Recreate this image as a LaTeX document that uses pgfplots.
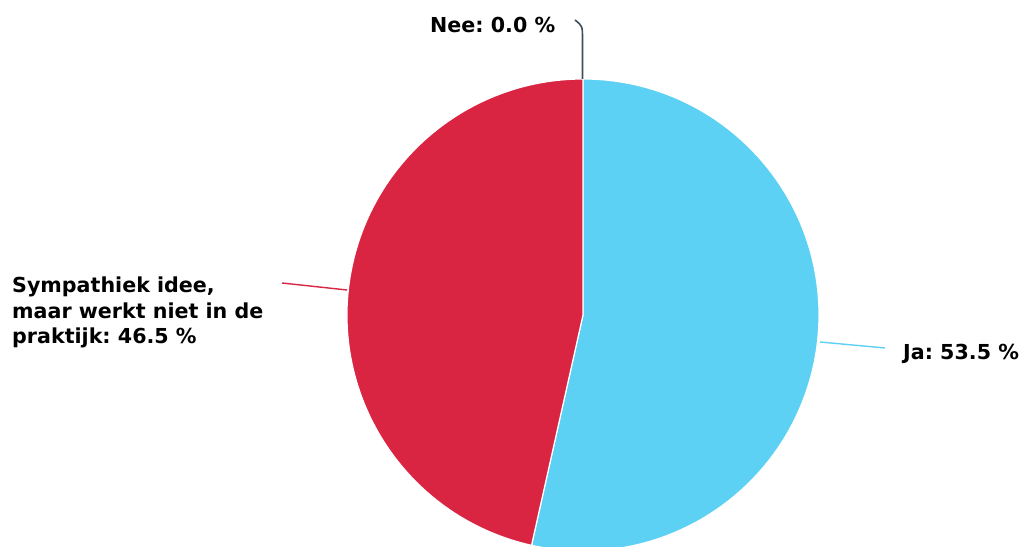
\documentclass[border=0pt]{standalone}
\usepackage{pgfplots}
\usepackage{pgfplotstable}
\pgfplotsset{compat=1.18}
\usepackage{fontspec}
\setmainfont{DejaVu Sans}
\frenchspacing
\definecolor{jablue}{HTML}{5CD1F3}
\definecolor{symred}{HTML}{D92442}
\definecolor{neeline}{HTML}{3D4F5E}
\pgfplotstableread{
label value
Ja 53.5
Sympathiek 46.5
Nee 0.0
}\piedata
\begin{document}
\begin{tikzpicture}
\useasboundingbox (0,0) rectangle (1021bp,547bp);
\begin{axis}[at={(0,0)}, anchor=south west, width=1021bp, height=547bp,
  scale only axis, xmin=0, xmax=1021, ymin=0, ymax=547, hide axis, clip=false]
\pgfplotstablegetelem{0}{value}\of\piedata \let\vJa\pgfplotsretval
\pgfplotstablegetelem{1}{value}\of\piedata \let\vSym\pgfplotsretval
\pgfplotstablegetelem{2}{value}\of\piedata \let\vNee\pgfplotsretval
\pgfmathsetmacro{\aJa}{90-3.6*\vJa}
\pgfmathsetmacro{\aSym}{\aJa-3.6*\vSym}
\pgfmathsetmacro{\aNee}{\aSym-3.6*\vNee}
\fill[jablue, draw=white, line width=1.2bp] (axis cs:583,232) -- (axis cs:583,468)
  arc[start angle=90, end angle=\aJa, radius=236bp] -- cycle;
\fill[symred, draw=white, line width=1.2bp] (axis cs:583,232) -- ++(\aJa:236bp)
  arc[start angle=\aJa, end angle=\aSym, radius=236bp] -- cycle;
% leader lines
\draw[jablue, line width=1.4bp] (axis cs:820,205) -- (axis cs:885,199);
\draw[symred, line width=1.4bp] (axis cs:347,257) -- (axis cs:282,264);
\draw[neeline, line width=1.6bp] (axis cs:582.5,468) -- (axis cs:582.5,508)
  .. controls (axis cs:582.5,521) .. (axis cs:575,527);
% labels
\tikzset{lbl/.style={anchor=base west, inner sep=0pt, text=black,
  font=\fontsize{20.7}{25}\selectfont\bfseries}}
\node[lbl] at (axis cs:430,514.5) {Nee: 0.0 \%};
\node[lbl] at (axis cs:903,187) {Ja: 53.5 \%};
\node[lbl] at (axis cs:12,254) {Sympathiek idee,};
\node[lbl] at (axis cs:12,228.5) {maar werkt niet in de};
\node[lbl] at (axis cs:12,203) {praktijk: 46.5 \%};
\end{axis}
\end{tikzpicture}
\end{document}
